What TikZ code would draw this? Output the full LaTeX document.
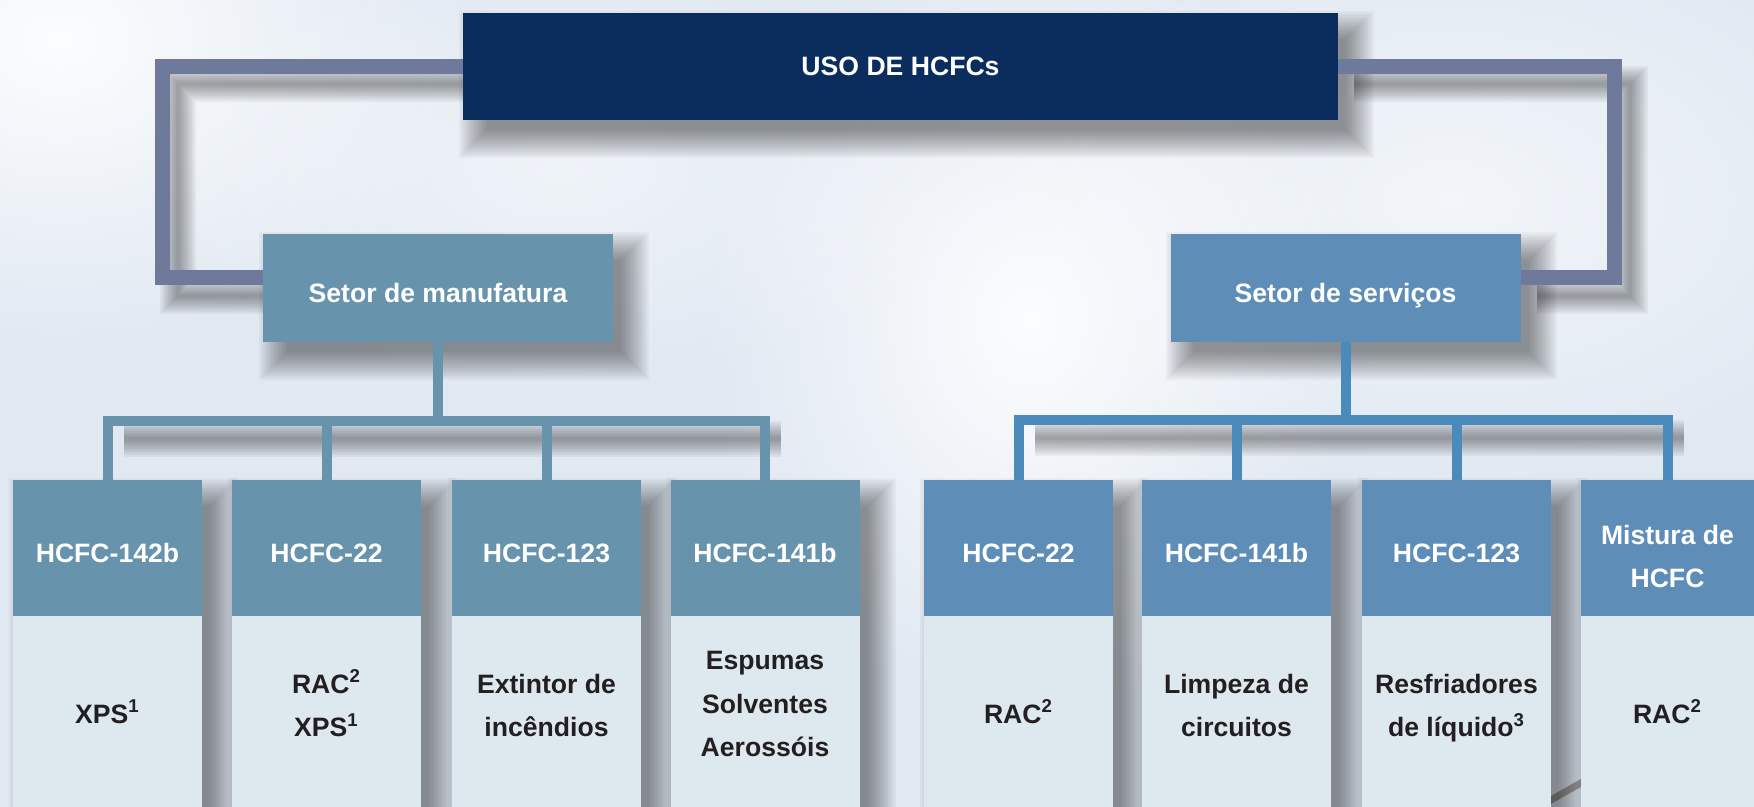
\documentclass[tikz,border=0pt]{standalone}
\usepackage{fontspec}
\setmainfont{Liberation Sans}
\usetikzlibrary{fadings, backgrounds}
\definecolor{usonavy}{RGB}{10,45,94}
\definecolor{loopgray}{RGB}{111,121,156}
\definecolor{manblue}{RGB}{104,147,173}
\definecolor{servblue}{RGB}{94,141,184}
\definecolor{servline}{RGB}{74,139,187}
\definecolor{bodyfill}{RGB}{222,232,239}
\definecolor{skybg}{RGB}{224,232,242}
\definecolor{inkdark}{RGB}{35,31,32}
\tikzfading[name=cloudfade, inner color=transparent!0, outer color=transparent!100]

\begin{document}
\begin{tikzpicture}[x=0.5pt, y=-0.5pt,
    txt/.style={font=\fontsize{13.3}{21.8}\selectfont\bfseries, align=center, inner sep=0pt},
    topbox/.style={txt, fill=usonavy, text=white,
        minimum width=437.5pt, minimum height=53.5pt},
    sector/.style={txt, fill=#1, text=white, text height=14.5pt, text depth=0pt,
        minimum width=175pt, minimum height=54pt},
    gashead/.style={txt, fill=#1, text=white, text height=14.5pt, text depth=0pt,
        minimum width=94.5pt, minimum height=68pt},
    usebody/.style={txt, fill=bodyfill, text=inkdark, text height=11.5pt, text depth=0pt,
        minimum width=94.5pt, minimum height=95.5pt},
    lines2/.style={text height=25.1pt, text depth=0pt},
    lines3/.style={text height=45.2pt, text depth=0pt},
    loopline/.style={draw=loopgray, line width=7.5pt},
    treeline/.style={draw=#1, line width=5pt},
    lshadow/.style={draw=black, opacity=0.045, line width=#1,
        transform canvas={shift={(8pt,-9pt)}}},
    bshadow/.style={fill=black, opacity=0.032,
        transform canvas={shift={(8pt,-9pt)}}}]
  \useasboundingbox (0,0) rectangle (1754,807);

  % top and sectors
  \node[topbox] (uso) at (900.5,66.5) {USO DE HCFCs};
  \node[sector=manblue] (manuf) at (438,288) {Setor de manufatura};
  \node[sector=servblue] (serv) at (1345.5,288) {Setor de serviços};

  % manufacturing columns
  \node[gashead=manblue] (h1) at (107.5,548) {HCFC-142b};
  \node[usebody] (b1) at (107.5,711.5) {XPS\textsuperscript{1}};
  \node[gashead=manblue] (h2) at (326.5,548) {HCFC-22};
  \node[usebody, lines2] (b2) at (326.5,711.5) {RAC\textsuperscript{2}\\XPS\textsuperscript{1}};
  \node[gashead=manblue] (h3) at (546.5,548) {HCFC-123};
  \node[usebody, lines2] (b3) at (546.5,711.5) {Extintor de\\incêndios};
  \node[gashead=manblue] (h4) at (765,548) {HCFC-141b};
  \node[usebody, lines3] (b4) at (765,711.5) {Espumas\\Solventes\\Aerossóis};

  % service columns
  \node[gashead=servblue] (h5) at (1018.5,548) {HCFC-22};
  \node[usebody] (b5) at (1018.5,711.5) {RAC\textsuperscript{2}};
  \node[gashead=servblue] (h6) at (1236.5,548) {HCFC-141b};
  \node[usebody, lines2] (b6) at (1236.5,711.5) {Limpeza de\\circuitos};
  \node[gashead=servblue] (h7) at (1456.5,548) {HCFC-123};
  \node[usebody, lines2] (b7) at (1456.5,711.5) {Resfriadores\\de líquido\textsuperscript{3}};
  \node[gashead=servblue, minimum width=86.5pt, text height=39.8pt, text depth=0pt] (h8)
    at (1667.5,548) {Mistura de\\HCFC};
  \node[usebody, minimum width=86.5pt] (b8) at (1667.5,711.5) {RAC\textsuperscript{2}};

  \coordinate (lc) at (162,278);
  \coordinate (rc) at (1614,278);
  \coordinate (mbar) at (0,421);
  \coordinate (sbar) at (0,420);

  \begin{scope}[on background layer]
    % sky
    \fill[skybg] (0,0) rectangle (1754,807);
    \fill[white, fill opacity=0.9, path fading=cloudfade] (60,40) ellipse (420 and 320);
    \fill[white, fill opacity=0.5, path fading=cloudfade] (560,170) ellipse (420 and 220);
    \fill[white, fill opacity=0.9, path fading=cloudfade] (1030,320) ellipse (330 and 400);
    \fill[white, fill opacity=0.6, path fading=cloudfade] (1450,200) ellipse (500 and 300);
    \draw[gray!75, line width=3.5pt] (1530,812) -- (1600,772);
    % box shadows
    \foreach \a/\b in {uso/uso, manuf/manuf, serv/serv, h1/b1, h2/b2, h3/b3, h4/b4,
                       h5/b5, h6/b6, h7/b7, h8/b8}
      \foreach \g in {0,...,14}
        \fill[bshadow] ([shift={(4pt-\g pt,\g pt-4pt)}]\a.north west)
          rectangle ([shift={(\g pt-4pt,4pt-\g pt)}]\b.south east);
    % connector shadows
    \foreach \lw in {2,4,...,18} {
      \draw[lshadow=\lw pt] (uso.west) -| (lc) -- (lc -| manuf.west);
      \draw[lshadow=\lw pt] (uso.east) -| (rc) -- (rc -| serv.east);
      \draw[lshadow=\lw pt] (h1.north |- mbar) -- (h4.north |- mbar);
      \draw[lshadow=\lw pt] (h5.north |- sbar) -- (h8.north |- sbar);
    }
  \end{scope}

  % loops to the sectors
  \draw[loopline] (uso.west) -| (lc) -- (lc -| manuf.west);
  \draw[loopline] (uso.east) -| (rc) -- (rc -| serv.east);

  % manufacturing tree
  \draw[treeline=manblue] (manuf.south) -- (manuf.south |- mbar);
  \draw[treeline=manblue] (h1.north) -- (h1.north |- mbar) -- (h4.north |- mbar) -- (h4.north);
  \draw[treeline=manblue] (h2.north) -- (h2.north |- mbar);
  \draw[treeline=manblue] (h3.north) -- (h3.north |- mbar);

  % service tree
  \draw[treeline=servline] (serv.south) -- (serv.south |- sbar);
  \draw[treeline=servline] (h5.north) -- (h5.north |- sbar) -- (h8.north |- sbar) -- (h8.north);
  \draw[treeline=servline] (h6.north) -- (h6.north |- sbar);
  \draw[treeline=servline] (h7.north) -- (h7.north |- sbar);
\end{tikzpicture}
\end{document}
